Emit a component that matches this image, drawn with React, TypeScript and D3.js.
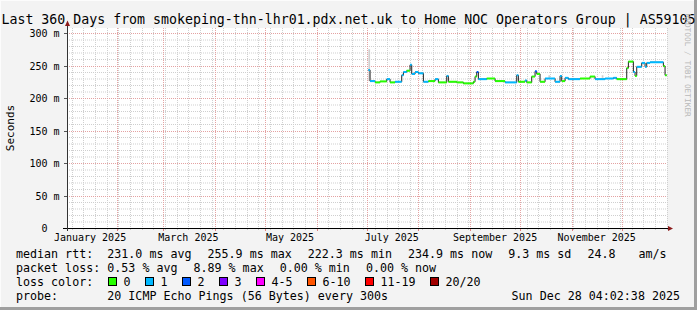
import React from 'react';
import * as d3 from 'd3';

const W = 697;
const H = 310;

const endTime = new Date(Date.UTC(2025, 11, 28, 4, 2, 38));
const startTime = new Date(endTime.getTime() - 360 * 86400000);

const titleText = 'Last 360 Days from smokeping-thn-lhr01.pdx.net.uk to Home NOC Operators Group | AS59105';

// median rtt steps (value holds until the next date)
const medianDates = [
  '2025-07-02', '2025-07-03', '2025-07-06', '2025-07-09', '2025-07-13', '2025-07-15', '2025-07-18',
  '2025-07-22', '2025-07-23', '2025-07-25', '2025-07-27', '2025-07-28', '2025-07-30', '2025-08-01',
  '2025-08-04', '2025-08-07', '2025-08-11', '2025-08-13', '2025-08-18', '2025-08-19', '2025-08-24',
  '2025-08-28', '2025-09-03', '2025-09-04', '2025-09-05', '2025-09-06', '2025-09-11', '2025-09-16',
  '2025-09-22', '2025-09-29', '2025-09-30', '2025-10-04', '2025-10-05', '2025-10-08', '2025-10-10',
  '2025-10-11', '2025-10-13', '2025-10-16', '2025-10-22', '2025-10-25', '2025-10-26', '2025-10-28',
  '2025-10-30', '2025-11-06', '2025-11-12', '2025-11-15', '2025-11-21', '2025-11-26', '2025-11-28',
  '2025-12-04', '2025-12-05', '2025-12-08', '2025-12-09', '2025-12-10', '2025-12-13', '2025-12-15',
  '2025-12-16', '2025-12-18', '2025-12-26', '2025-12-27', '2025-12-28',
];
const medianValues = [
  243, 226, 224, 225.5, 229, 224, 225,
  235, 240, 242, 251, 237, 240, 238,
  225, 226, 229, 224, 234, 225, 224,
  222.5, 225, 233, 240, 229, 230, 226,
  224, 235, 225, 227, 224, 233, 241,
  237, 225, 230, 225, 234, 226, 231,
  229, 230, 233, 229, 230, 231, 229,
  246, 256, 240, 234, 248, 254, 248,
  254, 255, 249, 235, 235,
];
// loss class index into lossColors
const medianLoss = [
  1, 1, 0, 0, 1, 0, 1,
  1, 1, 0, 1, 1, 1, 1,
  1, 0, 1, 0, 1, 0, 0,
  0, 0, 0, 2, 1, 0, 0,
  1, 1, 0, 1, 0, 0, 2,
  0, 0, 1, 1, 1, 0, 1,
  1, 0, 0, 1, 1, 1, 0,
  0, 0, 1, 0, 1, 1, 1,
  1, 1, 0, 0, 0,
];

// smoke (spread of pings) where visible
const smokeDates = ['2025-07-02', '2025-10-18', '2025-11-19'];
const smokeLow = [226, 231, 231];
const smokeHigh = [275, 235, 235];

const lossLabels = ['0', '1', '2', '3', '4-5', '6-10', '11-19', '20/20'];
const lossColors = ['#26ff00', '#00b8ff', '#0059ff', '#7e00ff', '#ff00ff', '#ff5500', '#ff0000', '#a10000'];
const lossSwatchX = [108.5, 145.5, 182.5, 219.5, 256.5, 307.5, 365.5, 430.5];

const yMajorTicks = [0, 50, 100, 150, 200, 250, 300];
const yTickNumbers = ['0', '50', '100', '150', '200', '250', '300'];
const yTickUnits = ['', 'm', 'm', 'm', 'm', 'm', 'm'];

const monthLabelStarts = ['2025-01-01', '2025-03-01', '2025-05-01', '2025-07-01', '2025-09-01', '2025-11-01'];
const monthLabels = ['January 2025', 'March 2025', 'May 2025', 'July 2025', 'September 2025', 'November 2025'];

const rttLegend = ['231.0 ms avg', '255.9 ms max', '222.3 ms min', '234.9 ms now', '9.3 ms sd', '24.8 ', 'am/s'];
const lossLegend = ['0.53 % avg', '8.89 % max', '0.00 % min', '0.00 % now'];
const probeText = '20 ICMP Echo Pings (56 Bytes) every 300s';
const stampText = 'Sun Dec 28 04:02:38 2025';

const FONT = 'DejaVu Sans Mono';
const LEG_FS = 11.66;
const CHAR_W = LEG_FS * 0.602;
const LEG_GAP = 16;

const parse = (s: string) => new Date(s + 'T00:00:00Z');

function flowX(items: string[], x0: number) {
  const xs: number[] = [];
  let cx = x0;
  items.forEach((t) => {
    xs.push(cx);
    cx += t.length * CHAR_W + LEG_GAP;
  });
  return xs;
}

export default function App() {
  const left = 67, right = 667, top = 28, bottom = 228;
  const x = d3.scaleUtc().domain([startTime, endTime]).range([left, right]);
  const y = d3.scaleLinear().domain([0, 200 / 0.65]).range([bottom, top]);

  const minorY = d3.range(10, 310, 10).filter((v) => v % 50 !== 0);
  const monthTicks = d3.utcMonth.range(startTime, endTime);
  const weekTicks = d3.utcSunday.range(startTime, endTime).filter(
    (d) => !monthTicks.some((m) => Math.abs(m.getTime() - d.getTime()) < 86400000 * 0.5)
  );

  const pts = medianDates.map((d, i) => [x(parse(d)), y(medianValues[i])] as [number, number]);
  const stepPath = d3.line().curve(d3.curveStepAfter)(pts) || '';

  const rttX = flowX(rttLegend, 107.3);
  const lossX = flowX(lossLegend, 107.3);

  const majorGrid = '#e4a2a2';
  const minorGrid = '#cfcfcf';

  return (
    <svg width={W} height={H} style={{ position: 'absolute', left: 0, top: 0 }} fontFamily={FONT}>
      <rect x={0} y={0} width={W} height={H} fill="#f3f3f3" />
      <rect x={W - 3} y={0} width={3} height={H} fill="#9f9f9f" />
      <rect x={0} y={H - 3} width={W} height={3} fill="#9f9f9f" />
      <rect x={0} y={0} width={W - 3} height={1} fill="#fcfcfc" />
      <rect x={0} y={0} width={1} height={H - 3} fill="#fcfcfc" />

      <rect x={left} y={top} width={right - left} height={bottom - top} fill="#ffffff" />

      {/* minor grid */}
      {minorY.map((v) => (
        <line key={'my' + v} x1={left} x2={right} y1={y(v) + 0.5} y2={y(v) + 0.5}
          stroke={minorGrid} strokeDasharray="1,1" />
      ))}
      {weekTicks.map((d) => (
        <line key={'wx' + d.getTime()} x1={Math.round(x(d)) + 0.5} x2={Math.round(x(d)) + 0.5} y1={top} y2={bottom}
          stroke={minorGrid} strokeDasharray="1,1" />
      ))}
      {/* major grid */}
      {yMajorTicks.filter((v) => v > 0).map((v) => (
        <line key={'My' + v} x1={left} x2={right} y1={Math.round(y(v)) + 0.5} y2={Math.round(y(v)) + 0.5}
          stroke={majorGrid} strokeDasharray="1,1" />
      ))}
      {monthTicks.map((d) => (
        <line key={'Mx' + d.getTime()} x1={Math.round(x(d)) + 0.5} x2={Math.round(x(d)) + 0.5} y1={top} y2={bottom}
          stroke={majorGrid} strokeDasharray="1,1" />
      ))}

      {/* axis ticks */}
      {monthTicks.map((d) => (
        <line key={'tMx' + d.getTime()} x1={Math.round(x(d)) + 0.5} x2={Math.round(x(d)) + 0.5} y1={bottom} y2={bottom + 3}
          stroke="#e08080" />
      ))}
      {weekTicks.map((d) => (
        <line key={'twx' + d.getTime()} x1={Math.round(x(d)) + 0.5} x2={Math.round(x(d)) + 0.5} y1={bottom} y2={bottom + 2}
          stroke="#c8c8c8" />
      ))}
      {yMajorTicks.map((v) => (
        <line key={'tMy' + v} x1={left - 3} x2={left} y1={Math.round(y(v)) + 0.5} y2={Math.round(y(v)) + 0.5}
          stroke="#555" />
      ))}

      {/* smoke */}
      {smokeDates.map((d, i) => (
        <rect key={'s' + i} x={x(parse(d))} y={y(smokeHigh[i])} width={1.7}
          height={y(smokeLow[i]) - y(smokeHigh[i])} fill="#cfcfcf" />
      ))}

      {/* median line */}
      <path d={stepPath} fill="none" stroke="#202020" strokeWidth={1} />
      {medianDates.slice(0, -1).map((d, i) => {
        const x1 = x(parse(d));
        const x2 = x(parse(medianDates[i + 1]));
        return (
          <line key={'m' + i} x1={x1} x2={x2} y1={y(medianValues[i])} y2={y(medianValues[i])}
            stroke={lossColors[medianLoss[i]]} strokeWidth={2} />
        );
      })}

      {/* axes */}
      <line x1={left - 4} x2={right + 2} y1={bottom + 0.5} y2={bottom + 0.5} stroke="#000" />
      <line x1={left + 0.5} x2={left + 0.5} y1={bottom + 3} y2={top - 2} stroke="#333" />
      <path d={`M${right + 1},${bottom - 2} L${right + 6},${bottom + 0.5} L${right + 1},${bottom + 3} Z`} fill="#8b1a1a" />
      <path d={`M${left - 2},${top - 2} L${left + 0.5},${top - 7.5} L${left + 3},${top - 2} Z`} fill="#8b1a1a" />

      {/* y labels */}
      {yMajorTicks.map((v, i) => (
        <text key={'yl' + v} x={yTickUnits[i] ? 59.5 : 47.5} y={Math.round(y(v)) + 4} fontSize={10}
          textAnchor="end" fill="#000">
          {yTickUnits[i] ? yTickNumbers[i] + ' ' + yTickUnits[i] : yTickNumbers[i]}
        </text>
      ))}
      <text transform="translate(14,128) rotate(-90)" fontSize={11} textAnchor="middle" fill="#000">Seconds</text>

      {/* x labels */}
      {monthLabelStarts.map((m, i) => (
        <text key={'xl' + i} x={x(d3.utcDay.offset(parse(m), 15))} y={241} fontSize={10}
          textAnchor="middle" fill="#000">{monthLabels[i]}</text>
      ))}

      {/* title */}
      <text x={W / 2} y={24} fontSize={13.25} textAnchor="middle" fill="#000">{titleText}</text>

      {/* watermark */}
      <text transform="translate(685,13.5) rotate(90)" fontSize={7.8} fill="#b8b8b8">RRDTOOL / TOBI OETIKER</text>

      {/* legend */}
      <g fontSize={LEG_FS} fill="#000" style={{ whiteSpace: 'pre' }}>
        <text x={16} y={258.3}>median rtt:</text>
        {rttLegend.map((t, i) => (
          <text key={'r' + i} x={rttX[i]} y={258.3}>{t}</text>
        ))}
        <text x={16} y={272}>packet loss:</text>
        {lossLegend.map((t, i) => (
          <text key={'l' + i} x={lossX[i]} y={272}>{t}</text>
        ))}
        <text x={16} y={285.7}>loss color:</text>
        {lossLabels.map((t, i) => (
          <g key={'c' + i}>
            <rect x={lossSwatchX[i]} y={277.5} width={8} height={8} fill={lossColors[i]} stroke="#000" />
            <text x={lossSwatchX[i] + 15} y={285.7}>{t}</text>
          </g>
        ))}
        <text x={16} y={299.5}>probe:</text>
        <text x={107.3} y={299.5}>{probeText}</text>
        <text x={680} y={299.5} textAnchor="end">{stampText}</text>
      </g>
    </svg>
  );
}
